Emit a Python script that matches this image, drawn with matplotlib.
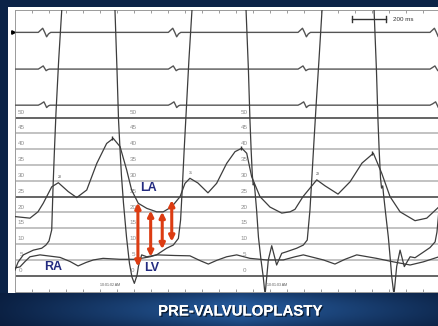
import numpy as np
import matplotlib.pyplot as plt
import matplotlib.patheffects as pe
from matplotlib.patches import Rectangle

plt.rcParams['font.family'] = ['Liberation Sans', 'DejaVu Sans']

# pressure tracings: time in ms, pressure in mmHg
la_t = [0, 88, 135, 166, 216, 255, 313, 363, 422, 481, 539, 578, 618, 657, 686, 725, 775, 833, 872, 922,
        971, 1000, 1029, 1076, 1135, 1186, 1245, 1294, 1334, 1363, 1392, 1441, 1500, 1569, 1618, 1647, 1694,
        1775, 1824, 1900, 1971, 2041, 2108, 2157, 2206, 2265, 2353, 2422, 2494]
la_p = [18.7, 18.2, 20.2, 22.9, 28.1, 29.4, 26.6, 24.7, 27.1, 35.5, 41.8, 43.4, 40.8, 33.4, 27.1, 22.9, 21.3,
        20.2, 20.2, 21.8, 25.0, 29.2, 30.8, 29.3, 26.2, 29.2, 35.5, 39.2, 40.3, 38.7, 31.3, 25.0, 21.7, 19.8,
        20.2, 21.0, 25.0, 30.3, 28.4, 25.8, 29.7, 35.6, 38.7, 32.4, 25.0, 20.2, 17.4, 18.2, 21.8]

# LV goes off scale in systole (peak values above the top of the window)
lv_t = [0, 18, 49, 108, 157, 182, 200, 216, 224, 232, 241, 257, 275,
        290, 330, 400, 480, 540, 570,
        588, 600, 609, 618, 626, 638, 656, 673, 688, 702, 718, 726, 745, 775, 833, 892, 931, 961, 974, 985,
        995, 1006, 1023, 1041,
        1056, 1100, 1180, 1260, 1320, 1345,
        1359, 1373, 1382, 1389, 1396, 1401, 1407, 1412, 1421, 1432, 1447, 1460, 1471, 1490, 1510, 1539, 1569,
        1598, 1657, 1696, 1719, 1735, 1747, 1759, 1773, 1788, 1806,
        1821, 1865, 1945, 2020, 2080, 2100,
        2112, 2126, 2135, 2142, 2150, 2156, 2163, 2168, 2179, 2196, 2209, 2216, 2229, 2245, 2265, 2290, 2324,
        2353, 2392, 2441, 2471, 2482, 2494, 2506]
lv_p = [1.8, 4.3, 6.6, 8.1, 8.7, 9.7, 11.0, 14.5, 28.4, 39.7, 51.4, 68.2, 84.0,
        100, 118, 124, 120, 108, 97,
        84.0, 65.0, 49.2, 39.7, 31.8, 23.0, 12.2, 4.0, -0.4, -2.4, 0.2, 3.0, 6.6, 6.0, 6.6, 8.7, 9.7, 11.8,
        17.6, 28.7, 39.7, 50.8, 68.2, 84.0,
        100, 118, 124, 120, 108, 96,
        84.0, 65.0, 49.2, 39.7, 31.8, 28.7, 29.3, 26.5, 20.8, 12.2, 5.0, -0.3, -6.0, 5.0, 9.5, 3.4, 7.1, 7.6,
        8.7, 9.7, 11.3, 20.8, 31.8, 42.9, 55.5, 68.2, 84.0,
        100, 118, 124, 120, 108, 96,
        84.0, 65.0, 49.2, 39.7, 30.9, 27.7, 28.4, 25.6, 20.2, 12.2, 4.3, -0.3, -6.0, 2.9, 8.1, 2.9, 6.0, 5.7,
        7.1, 8.9, 10.7, 13.8, 20.8, 33.4]

ra_t = [0, 29, 59, 88, 147, 265, 324, 371, 418, 461, 518, 618, 696, 753, 794, 833, 941, 1029, 1088, 1137,
        1188, 1245, 1304, 1382, 1480, 1578, 1647, 1696, 1814, 1882, 1941, 2010, 2127, 2225, 2324, 2402, 2494]
ra_p = [2.5, 2.8, 4.5, 6.0, 6.6, 5.8, 4.5, 3.1, 4.2, 5.0, 5.5, 5.2, 5.2, 5.6, 6.0, 6.6, 6.4, 6.3, 4.8, 3.7,
        4.9, 6.0, 6.6, 5.5, 5.0, 5.0, 6.0, 6.6, 5.0, 3.7, 5.2, 6.6, 5.5, 4.4, 3.4, 4.4, 6.0]

# ECG leads: QRS onsets (ms) and the small deflection seen on each lead
qrs_onsets = [137, 902, 1665, 2441]
ecg_shapes = [
    ([0, 10, 26, 37, 49, 60, 73], [0, 0.5, 1.3, 0.1, -1.4, -0.5, 0]),
    ([0, 12, 29, 38, 46, 56, 66], [0, 0.4, 1.0, 0.2, -0.5, -0.15, 0]),
    ([0, 15, 33, 41, 49, 60, 70], [0, 0.4, 1.05, 0.2, -0.75, -0.2, 0]),
]
ecg_baselines = [76.9, 65.3, 53.9]

# gradient between LA and LV in diastole
arrow_t = [723, 798, 866, 922]
arrow_top = [23.1, 20.6, 20.2, 23.9]
arrow_bottom = [2.9, 6.0, 8.4, 10.8]

# recorder marks on the LA a and v waves
a_marks = [(265, 31.3, '28'), (1035, 32.6, '31'), (1782, 32.1, '29')]
v_marks_t = [572, 1328, 2102]
v_marks_p = [43.6, 40.5, 38.9]

grid_levels = list(range(0, 55, 5))
label_cols = [35, 694, 1347]

W, H = 439, 326
navy = '#0b2347'
trace = '#3d3d3d'


def fx(px):
    return px / W


def fy(py):
    return 1 - py / H


fig = plt.figure(figsize=(W / 100, H / 100), dpi=100)
fig.patch.set_facecolor(navy)
fig.add_artist(Rectangle((fx(8), fy(293)), 1 - fx(8), fy(7) - fy(293), transform=fig.transFigure,
                         facecolor='white', edgecolor='none', zorder=0))

# bottom title band
band = fig.add_axes([0, 0, 1, fy(293)])
yy, xx = np.mgrid[0:1:40j, 0:1:220j]
w = np.clip(1 - np.abs(xx - 0.55) * 1.6, 0, 1) * (0.25 + 0.75 * np.sin(np.pi * (0.15 + 0.7 * yy)))
dark = np.array([0.03, 0.10, 0.22])
light = np.array([0.15, 0.36, 0.62])
img = dark + (light - dark) * w[..., None]
band.imshow(img, aspect='auto', extent=(0, 1, 0, 1), interpolation='bilinear')
band.set_xlim(0, 1)
band.set_ylim(0, 1)
band.axis('off')
band.text(0.547, 0.44, 'PRE-VALVULOPLASTY', color='white', fontsize=10.8, fontweight='bold',
          ha='center', va='center',
          path_effects=[pe.withSimplePatchShadow(offset=(1, -1), shadow_rgbFace='black', alpha=0.6), pe.Normal()])

ax = fig.add_axes([fx(15), fy(292), fx(439) - fx(15), fy(10) - fy(292)])
ax.set_xlim(0, 2494)
ax.set_ylim(-5.13, 83.97)
ax.set_facecolor('none')

for lvl in grid_levels:
    if lvl in (0, 25, 50):
        ax.axhline(lvl, color='#3a3a3a', lw=1.1, zorder=2)
    else:
        ax.axhline(lvl, color='#bdbdbd', lw=1.3, zorder=1)
    for c in label_cols:
        ax.text(c, lvl + 1.7, str(lvl), fontsize=4.5, color='#8c8c8c', ha='center', va='center', zorder=2)

for (dt, amp), base in zip(ecg_shapes, ecg_baselines):
    xs, ys = [0], [0]
    for on in qrs_onsets:
        xs += [on + d for d in dt]
        ys += amp
    xs.append(2600)
    ys.append(0)
    ax.plot(xs, np.array(ys) + base, color='#555555', lw=1.0, zorder=3)
ax.plot(-14, ecg_baselines[0], marker='>', ms=2.5, color='black', clip_on=False)

ax.plot(la_t, la_p, color=trace, lw=0.9, zorder=3)
ax.plot(ra_t, ra_p, color=trace, lw=0.9, zorder=3)
ax.plot(lv_t, lv_p, color=trace, lw=0.9, zorder=3)

for t, top, bot in zip(arrow_t, arrow_top, arrow_bottom):
    ax.annotate('', xy=(t, top), xytext=(t, bot),
                arrowprops=dict(arrowstyle='<|-|>', color='#dc3c12', lw=2.2, mutation_scale=8,
                                shrinkA=0, shrinkB=0), zorder=4)

lab = dict(color='#232b80', fontsize=9, fontweight='bold', ha='center', va='center', zorder=5)
ax.text(785, 27.6, 'LA', **lab)
ax.text(225, 2.9, 'RA', **lab)
ax.text(804, 2.6, 'LV', **lab)

for t, p, s in a_marks:
    ax.text(t, p, s, fontsize=2.6, color='#555555', ha='center', va='center')
ax.plot(v_marks_t, v_marks_p, ls='none', marker='|', ms=2.5, mew=1.0, color='#333333', zorder=4)
ax.text(559, -3.0, '10:01:02 AM', fontsize=2.6, color='#555555', ha='center', va='center')
ax.text(1541, -2.9, '10:01:03 AM', fontsize=2.6, color='#555555', ha='center', va='center')

# 200 ms scale bar
ax.plot([1985, 2185], [81.1, 81.1], color='#333333', lw=1.0)
ax.plot([1985, 1985], [80.2, 82.0], color='#333333', lw=1.0)
ax.plot([2185, 2185], [80.2, 82.0], color='#333333', lw=1.0)
ax.text(2223, 81.0, '200 ms', fontsize=4.5, color='#333333', ha='left', va='center')

ax.set_xticks(np.arange(0, 2500, 100))
ax.set_yticks([])
ax.tick_params(axis='x', direction='in', length=2.5, width=0.6, color='#8c8c8c', top=True, bottom=True,
               labelbottom=False)
for side in ('top', 'bottom', 'left'):
    ax.spines[side].set_color('#9a9a9a')
    ax.spines[side].set_linewidth(0.7)
ax.spines['right'].set_visible(False)

fig.savefig('out.png', dpi=100, facecolor=navy)
